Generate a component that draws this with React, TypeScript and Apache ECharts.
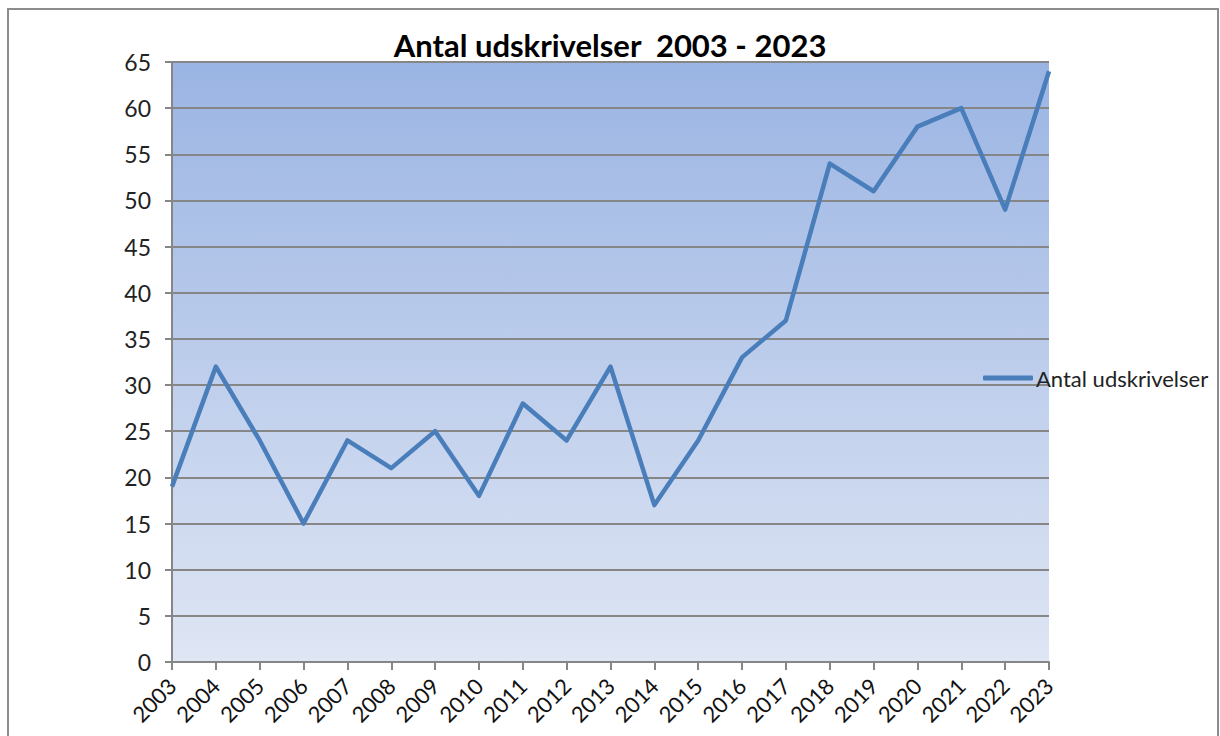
import React, { useEffect, useRef } from "react";
import * as echarts from "echarts";

const years = ["2003","2004","2005","2006","2007","2008","2009","2010","2011","2012","2013","2014","2015","2016","2017","2018","2019","2020","2021","2022","2023"];
const udskrivelser = [19, 32, 24, 15, 24, 21, 25, 18, 28, 24, 32, 17, 24, 33, 37, 54, 51, 58, 60, 49, 64];
const seriesName = "Antal udskrivelser";
const titleText = "Antal udskrivelser  2003 - 2023";

export default function App() {
  const ref = useRef<HTMLDivElement>(null);
  useEffect(() => {
    if (!ref.current) return;
    const chart = echarts.init(ref.current, null, { renderer: "svg" });
    const font = "Lato, 'Open Sans', sans-serif";
    chart.setOption({
      animation: false,
      backgroundColor: "#ffffff",
      title: {
        text: titleText,
        left: 610,
        textAlign: "center",
        top: 29,
        padding: 0,
        textStyle: { fontFamily: font, fontSize: 31, fontWeight: "bold", color: "#000" },
      },
      graphic: [
        {
          type: "rect",
          shape: { x: 8, y: 9, width: 1210, height: 760 },
          style: { fill: "none", stroke: "#8c8c8c", lineWidth: 2 },
          silent: true,
        },
      ],
      legend: {
        data: [{ name: seriesName, icon: "roundRect" }],
        left: 978,
        top: 362,
        itemWidth: 50,
        itemHeight: 5,
        itemGap: 5,
        textStyle: { fontFamily: font, fontSize: 22, color: "#222", padding: [0, 0, 0, -2] },
      },
      grid: {
        left: 172,
        right: 171,
        top: 62,
        bottom: 74,
        show: true,
        borderWidth: 0,
        backgroundColor: new echarts.graphic.LinearGradient(0, 0, 0, 1, [
          { offset: 0, color: "#9ab4e3" },
          { offset: 1, color: "#dfe6f4" },
        ]),
      },
      xAxis: {
        type: "category",
        data: years,
        boundaryGap: false,
        axisLine: { show: true, lineStyle: { color: "#868686", width: 2 } },
        axisTick: { show: true, length: 8, lineStyle: { color: "#868686", width: 2 } },
        axisLabel: { rotate: 45, interval: 0, margin: 20, fontFamily: font, fontSize: 22, color: "#111" },
        splitLine: { show: false },
      },
      yAxis: {
        type: "value",
        min: 0,
        max: 65,
        interval: 5,
        axisLine: { show: true, lineStyle: { color: "#868686", width: 2 } },
        axisTick: { show: true, length: 7, lineStyle: { color: "#868686", width: 2 } },
        axisLabel: { margin: 21, fontFamily: font, fontSize: 23, color: "#222" },
        splitLine: { show: true, lineStyle: { color: "#868686", width: 2 } },
      },
      series: [
        {
          name: seriesName,
          type: "line",
          data: udskrivelser,
          symbol: "none",
          lineStyle: { color: "#4a7ebb", width: 4.5, join: "round" },
          itemStyle: { color: "#4a7ebb" },
        },
      ],
    });
    return () => chart.dispose();
  }, []);
  return (
    <div
      ref={ref}
      style={{ position: "fixed", left: 0, top: 0, width: 1220, height: 736 }}
    />
  );
}
